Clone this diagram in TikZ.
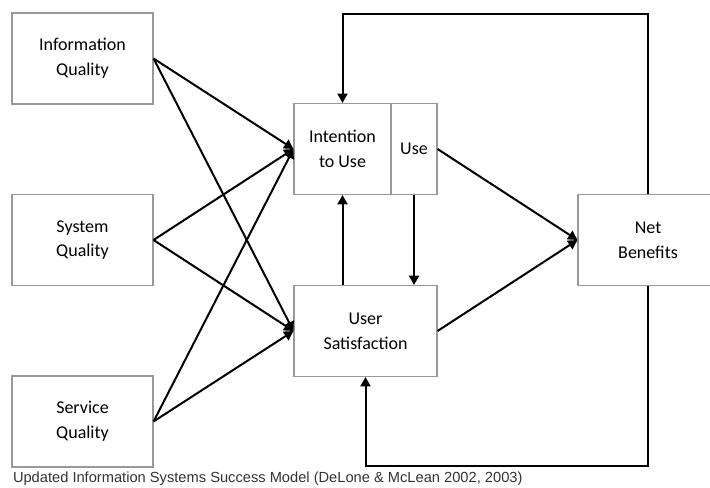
\documentclass[tikz,border=0pt]{standalone}
\usepackage{fontspec}
\setmainfont{Carlito}
\newfontfamily\capfont{Liberation Sans}
\usetikzlibrary{arrows.meta}

\begin{document}
\begin{tikzpicture}[
    x=0.75pt, y=-0.75pt,
    font=\fontsize{13.5}{18.5}\selectfont,
    every path/.append style={line width=1.5pt},
    link/.style={-{Triangle[length=7pt,width=7.5pt]}},
    box/.style={draw=gray!80, line width=0.8pt, align=center, inner sep=0pt,
        minimum width=105.75pt, minimum height=68.25pt}
]
    \useasboundingbox (0,0) rectangle (710,488);
    % quality boxes on the left
    \node[box] (iq) at (82.5,58.5)  {Information\\Quality};
    \node[box] (sq) at (82.5,240)   {System\\Quality};
    \node[box] (vq) at (82.5,421.5) {Service\\Quality};
    % middle
    \node[box, minimum width=72.75pt] (it) at (342.5,149) {Intention\\to Use};
    \node[box, minimum width=34.5pt]  (use) at (414,149)  {Use};
    \node[box, minimum width=107.25pt] (us) at (365.5,331) {User\\Satisfaction};
    % right
    \node[box, minimum width=105pt] (nb) at (648,240) {Net\\Benefits};
    % caption
    \node[anchor=west, inner sep=0pt, text=black!80,
        font=\capfont\fontsize{11}{12}\selectfont] (cap) at (12,479)
        {Updated Information Systems Success Model (DeLone \& McLean 2002, 2003)};

    \foreach \q in {iq,sq,vq}
    \foreach \t in {it,us}
        \draw[link] (\q.east) -- (\t.west);
    \draw[link] (use.east) -- (nb.west);
    \draw[link] (us.east) -- (nb.west);
    \draw[link] (it.south |- us.north) -- (it.south);
    \draw[link] (use.south) -- (use.south |- us.north);
    % feedback loops
    \draw[link] (nb.north) -- (648,14) -| (it.north);
    \draw[link] (nb.south) -- (648,466) -| (us.south);
\end{tikzpicture}
\end{document}
